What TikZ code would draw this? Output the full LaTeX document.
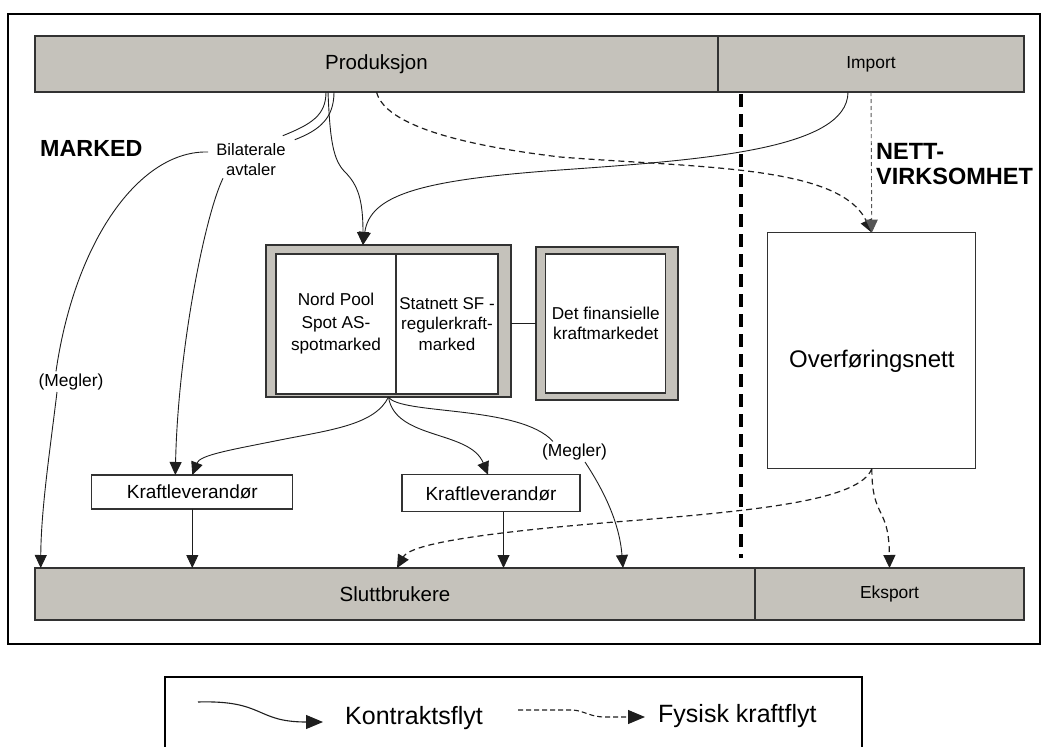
\documentclass[tikz,border=0pt]{standalone}
\usepackage{fontspec}
\setmainfont{Liberation Sans}
\usetikzlibrary{arrows.meta}
\definecolor{barfill}{RGB}{197, 194, 187}
\definecolor{boxline}{RGB}{50, 50, 50}
\definecolor{flowline}{RGB}{30, 30, 30}

\tikzset{
  barbox/.style       = {draw=boxline, fill=barfill, line width=1.2pt, inner sep=0pt, outer sep=0pt},
  whitebox/.style     = {draw=boxline, fill=white,   line width=1.2pt, inner sep=0pt, outer sep=0pt, align=center},
  textlabel/.style    = {inner sep=2pt, align=center},
  contractline/.style = {draw=flowline, line width=0.9pt},
  contract/.style     = {contractline, -{Triangle[length=13pt, width=12pt]}},
  physical/.style     = {draw=flowline, line width=1.2pt, dash pattern=on 6pt off 4pt, -{Triangle[length=13pt, width=12pt]}},
}

\begin{document}
\begin{tikzpicture}[x=1pt, y=-1pt]
    \useasboundingbox (0,0) rectangle (1042,747);
    \draw[line width=2.2pt] (8,14) rectangle (1040,644);

    % bars
    \node[barbox, minimum width=683pt, minimum height=56pt, font=\fontsize{20.5}{24}\selectfont] (prod)    at (376.5, 64) {Produksjon};
    \node[barbox, minimum width=306pt, minimum height=56pt, font=\fontsize{17.4}{20}\selectfont] (import)  at (871.0, 64) {Import};
    \node[barbox, minimum width=720pt, minimum height=52pt, font=\fontsize{20.5}{24}\selectfont] (slutt)   at (395.0,594) {Sluttbrukere};
    \node[barbox, minimum width=269pt, minimum height=52pt, font=\fontsize{17.4}{20}\selectfont] (eksport) at (889.5,594) {Eksport};

    % markets
    \node[barbox,   minimum width=245pt, minimum height=152pt] (spotframe) at (388.5,321.0) {};
    \node[barbox,   minimum width=142pt, minimum height=153pt] (finframe)  at (607.0,323.5) {};
    \node[whitebox, minimum width=120pt, minimum height=140pt, font=\fontsize{17.2}{22.5}\selectfont] (nordpool) at (336.0,324.0) {Nord Pool\\Spot AS-\\spotmarked};
    \node[whitebox, minimum width=102pt, minimum height=140pt, font=\fontsize{17}{20.5}\selectfont]   (statnett) at (447.0,324.0) {Statnett SF -\\regulerkraft-\\marked};
    \node[whitebox, minimum width=120pt, minimum height=139pt, font=\fontsize{17.2}{20}\selectfont]   (finans)   at (605.8,323.5) {Det finansielle\\kraftmarkedet};
    \draw[contractline] (spotframe.east |- finframe.west) -- (finframe.west);

    \node[whitebox, minimum width=208pt, minimum height=236pt,
          label={[font=\fontsize{24}{28}\selectfont, yshift=-11pt]center:Overføringsnett}] (overf) at (871.8,350.7) {};
    \node[whitebox, minimum width=201pt, minimum height=34pt, font=\fontsize{19}{22}\selectfont] (kl1) at (192.3,492.0) {Kraftleverandør};
    \node[whitebox, minimum width=178pt, minimum height=37pt, font=\fontsize{19}{22}\selectfont] (kl2) at (491.0,493.3) {Kraftleverandør};

    % texts
    \node[anchor=west, inner sep=0pt, font=\bfseries\fontsize{23.3}{27}\selectfont] (marked) at (40,148) {MARKED};
    \node[anchor=west, inner sep=0pt, align=left, font=\bfseries\fontsize{23.5}{25}\selectfont] (nett) at (876,164) {NETT-\\VIRKSOMHET};
    \node[textlabel, font=\fontsize{16.6}{20}\selectfont] (bilat)   at (251.0,160.0) {Bilaterale\\avtaler};
    \node[textlabel, font=\fontsize{17.4}{20}\selectfont] (megler1) at ( 71.0,381.7) {(Megler)};
    \node[textlabel, font=\fontsize{17.4}{20}\selectfont] (megler2) at (574.5,451.7) {(Megler)};

    \draw[line width=4pt, dash pattern=on 13pt off 7pt] (740.5,94) -- (740.5,558);

    % contract flows
    \draw[contractline] ([xshift=-50.5pt]prod.south) .. controls (326,115) and (312,124) .. ([xshift=-5pt, yshift=6pt]bilat.north east);
    \draw[contractline] ([xshift=-42.5pt]prod.south) .. controls (334,118) and (320,130) .. ([xshift=7pt, yshift=2pt]bilat.north east);
    \draw[contractline] ([xshift=-6pt, yshift=8pt]bilat.west) .. controls (140,150) and (75,240) .. ([xshift=-15pt]megler1.north);
    \draw[contract]     ([xshift=-14pt]megler1.south) .. controls (50,450) and (41,510) .. ([xshift=5.7pt]slutt.north west);
    \draw[contract]     ([xshift=-28pt]bilat.south) .. controls (205,215) and (178,350) .. ([xshift=-17pt]kl1.north);

    \draw[contract] ([xshift=-48.5pt]prod.south) .. controls (330,140) and (333,160) .. (345,172)
                                                 .. controls (358,185) and (363,200) .. ([xshift=-25.5pt]spotframe.north);
    \draw[contract] ([xshift=-23pt]import.south) .. controls (848,150) and (700,160) .. (560,170)
                                                 .. controls (420,180) and (370,195) .. ([xshift=-25.5pt]spotframe.north);

    \draw[contract]     (spotframe.south) .. controls (375,425) and (330,430) .. (280,440)
                                          .. controls (230,450) and (200,455) .. (kl1.north);
    \draw[contract]     (spotframe.south) .. controls (395,440) and (470,430) .. ([xshift=-3pt]kl2.north);
    \draw[contractline] (spotframe.south) .. controls (400,415) and (520,405) .. ([xshift=-21.5pt]megler2.north);
    \draw[contract]     ([xshift=10.5pt]megler2.south) .. controls (610,500) and (620,530) .. ([xshift=228pt]slutt.north);

    \draw[contract] (kl1.south) -- (kl1.south |- slutt.north);
    \draw[contract] ([xshift=12.5pt]kl2.south) -- ([xshift=12.5pt]kl2.south |- slutt.north);

    % physical flows
    \draw[physical] (prod.south) .. controls (385,125) and (460,145) .. (560,157)
                                 .. controls (700,168) and (840,165) .. (overf.north);
    \draw[physical, line width=0.9pt, draw=flowline!75, dash pattern=on 4pt off 3pt] (import.south) -- (overf.north);
    \draw[physical] (overf.south) .. controls (860,500) and (760,510) .. (640,520)
                                  .. controls (470,533) and (410,545) .. ([xshift=2pt]slutt.north);
    \draw[physical] (overf.south) .. controls (872,520) and (889,505) .. (eksport.north);

    % legend
    \draw[line width=2pt] (165,760) -- (165,677) -- (862,677) -- (862,760);
    \node[anchor=west, inner sep=0pt, font=\fontsize{25}{30}\selectfont] (kontrakt) at (345,718) {Kontraktsflyt};
    \node[anchor=west, inner sep=0pt, font=\fontsize{25}{30}\selectfont] (fysisk)   at (658,716) {Fysisk kraftflyt};
    \coordinate (ksample) at (198,702);
    \coordinate (fsample) at (518,710);
    \draw[contractline, line width=1.1pt, -{Triangle[length=17pt, width=14pt]}] (ksample) .. controls (265,700) and (255,722) .. ([xshift=-22pt, yshift=-4pt]kontrakt.west);
    \draw[draw=flowline, line width=1.1pt, dash pattern=on 5pt off 3pt, -{Triangle[length=17pt, width=14pt]}]
        (fsample) -- (573,710) .. controls (585,711) and (590,717) .. (605,717) -- ([xshift=-13pt, yshift=-1pt]fysisk.west);
\end{tikzpicture}
\end{document}
